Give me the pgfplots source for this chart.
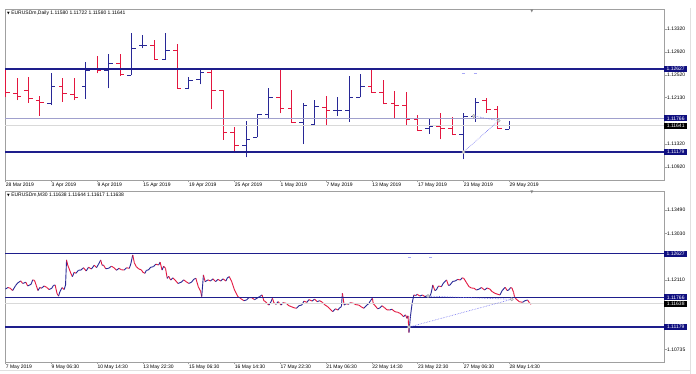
\documentclass[border=0pt]{standalone}
\usepackage{fontspec}
\setmainfont{Liberation Sans}
\newfontfamily\dejavu{DejaVu Sans}
\usepackage{pgfplots}
\pgfplotsset{compat=1.18}
\usepackage{pgfplotstable}
\definecolor{barblue}{RGB}{40,40,150}
\definecolor{barred}{RGB}{227,23,63}
\definecolor{lvlnavy}{RGB}{30,30,140}
\definecolor{lvllight}{RGB}{160,160,205}
\definecolor{boxnavy}{RGB}{16,16,128}
\definecolor{framegray}{RGB}{160,160,160}
\definecolor{dotblue}{RGB}{110,110,240}
\newcommand\tinyfont{\fontsize{5}{6}\selectfont}

\pgfplotstableread{
i O H L C
4 1.12027 1.12549 1.11998 1.12317
7 1.12317 1.12740 1.12103 1.12607
9 1.12607 1.12885 1.12288 1.12723
11 1.12520 1.13245 1.12520 1.12984
12 1.13030 1.13216 1.12984 1.13036
14 1.12798 1.13245 1.12792 1.12955
16 1.12288 1.12479 1.12271 1.12433
17 1.12445 1.12619 1.12358 1.12566
21 1.11297 1.11726 1.11088 1.11401
22 1.11436 1.11842 1.11436 1.11836
23 1.11836 1.12288 1.11749 1.12132
26 1.11697 1.12039 1.11320 1.11998
27 1.11668 1.12085 1.11650 1.11981
29 1.11900 1.12132 1.11813 1.11905
30 1.11911 1.12503 1.11708 1.12132
31 1.12132 1.12537 1.12132 1.12317
37 1.11592 1.11749 1.11494 1.11633
40 1.11488 1.11865 1.11053 1.11795
41 1.11795 1.12114 1.11708 1.12039
44 1.11580 1.11722 1.11580 1.11641
}\upbars

\pgfplotstableread{
i O H L C
0 1.12259 1.12607 1.12132 1.12213
1 1.12201 1.12462 1.12085 1.12155
2 1.12248 1.12479 1.12039 1.12114
3 1.12085 1.12155 1.11813 1.12039
5 1.12317 1.12474 1.12056 1.12201
6 1.12190 1.12462 1.12085 1.12132
8 1.12619 1.12850 1.12549 1.12595
10 1.12723 1.12885 1.12503 1.12532
13 1.13042 1.13129 1.12798 1.12798
15 1.12955 1.13053 1.12277 1.12288
18 1.12566 1.12607 1.11923 1.12259
19 1.12259 1.12259 1.11390 1.11517
20 1.11517 1.11621 1.11169 1.11297
24 1.12132 1.12648 1.11853 1.11940
25 1.11940 1.12259 1.11691 1.11697
28 1.11958 1.12155 1.11645 1.11900
32 1.12317 1.12624 1.12213 1.12213
33 1.12213 1.12433 1.12010 1.12027
34 1.12027 1.12242 1.11755 1.11998
35 1.11998 1.12230 1.11650 1.11749
36 1.11749 1.11824 1.11546 1.11552
38 1.11633 1.11865 1.11401 1.11592
39 1.11592 1.11784 1.11476 1.11488
42 1.12085 1.12114 1.11865 1.11923
43 1.11923 1.11981 1.11581 1.11592
}\downbars

\pgfplotstableread{
i p c
0 1.11930 1
3.5 1.11960 0
6.8 1.11944 0
10 1.11900 1
14.0 1.11996 1
17 1.12050 1
21.2 1.12088 0
24 1.12040 1
28.5 1.12062 0
31 1.11990 1
35.7 1.12022 1
38 1.12110 0
40.5 1.12101 0
43 1.12000 0
45.3 1.11900 1
48 1.11960 0
50.1 1.11944 1
54 1.11990 0
57.4 1.11963 0
61 1.11920 1
64.6 1.11944 1
67 1.12000 1
69.4 1.12009 0
72 1.11840 0
74.2 1.11790 1
76 1.11878 1
79.1 1.11957 0
82 1.11920 1
83.9 1.12009 1
85.3 1.12503 0
87 1.12400 0
88.7 1.12338 0
91 1.12250 0
93.5 1.12174 1
96 1.12260 0
98.3 1.12240 1
102 1.12300 1
105.5 1.12305 1
109 1.12350 0
112.8 1.12286 1
116 1.12360 0
120 1.12325 1
124 1.12400 0
127.2 1.12352 1
130 1.12420 1
133 1.12503 0
135 1.12400 1
136.9 1.12404 0
140 1.12330 1
144.1 1.12338 1
148 1.12380 0
151.3 1.12352 0
155 1.12300 1
158.6 1.12338 0
162 1.12310 0
165.8 1.12305 1
169 1.12350 0
173 1.12338 1
175 1.12420 1
177.8 1.12602 0
180 1.12450 0
182.7 1.12371 0
186 1.12330 0
189.9 1.12305 0
192 1.12260 0
194.7 1.12240 1
197 1.12300 1
199.5 1.12305 1
203 1.12360 1
206.8 1.12371 1
210 1.12420 0
214 1.12404 1
216 1.12460 0
218.8 1.12305 1
221 1.12380 0
223.6 1.12338 0
226 1.12141 1
228 1.12180 0
230.8 1.12108 1
234 1.12150 0
238.1 1.12088 0
241 1.12040 1
245.3 1.12062 1
249 1.12110 0
252.5 1.12075 0
256 1.12040 1
259.8 1.12062 1
263 1.12120 1
266 1.12141 0
269.4 1.11976 0
272.8 1.11878 0
274.2 1.11779 1
276.6 1.12207 0
279 1.12075 1
283 1.12110 0
286.3 1.12088 1
290 1.12130 0
293.5 1.12075 1
297 1.12120 0
300.7 1.12088 1
304 1.12130 0
308 1.12088 1
310 1.12150 1
312.8 1.12174 0
316.1 1.12075 0
320 1.11911 0
324.8 1.11779 0
327 1.11760 0
329.6 1.11733 0
333 1.11700 1
336.9 1.11713 1
340 1.11760 0
344.1 1.11759 0
348 1.11720 1
351.3 1.11746 1
355 1.11780 1
358.5 1.11812 0
361 1.11700 0
363.4 1.11680 0
366 1.11640 0
368.2 1.11614 1
371 1.11680 1
373 1.11746 0
375 1.11660 0
377.8 1.11628 1
381 1.11680 0
385 1.11614 1
388 1.11660 0
392.3 1.11647 0
396 1.11600 0
399.5 1.11582 0
403 1.11560 0
406.7 1.11549 1
410 1.11600 1
414 1.11614 1
417 1.11690 0
421.2 1.11667 1
424 1.11720 0
428.4 1.11693 1
432 1.11730 0
435.6 1.11680 1
439 1.11700 0
442.9 1.11667 0
446 1.11620 0
450.1 1.11582 0
453 1.11540 0
457.3 1.11483 1
461 1.11540 0
464.6 1.11516 1
467 1.11560 1
469.4 1.11582 1
470.8 1.11845 0
473.2 1.11614 1
476 1.11640 0
479 1.11628 1
482 1.11660 0
486.2 1.11647 0
490 1.11620 0
493.5 1.11614 0
497 1.11580 0
500.7 1.11549 1
504 1.11600 1
507.9 1.11647 1
510 1.11700 1
512.7 1.11746 0
514 1.11640 0
517.6 1.11582 0
520 1.11540 1
522.4 1.11549 1
526 1.11600 0
529.6 1.11562 0
533 1.11520 0
536.8 1.11516 1
540 1.11530 0
544.1 1.11483 0
548 1.11470 0
551.3 1.11450 0
554 1.11420 0
556.1 1.11384 1
559 1.11420 0
560.9 1.11351 1
562.5 1.11400 0
563.8 1.11070 1
565.8 1.11384 1
568.2 1.11647 1
570.6 1.11812 0
573 1.11800 1
575.4 1.11825 0
579 1.11790 1
582.6 1.11812 0
586 1.11780 1
589.8 1.11799 0
592 1.11760 1
594.7 1.11845 1
597.1 1.12009 0
600 1.11900 1
601.9 1.11911 1
605 1.11990 0
609.1 1.11976 1
612 1.12050 1
616.3 1.12108 0
619 1.12000 1
621.2 1.12009 1
625 1.12080 1
628.4 1.12088 1
632 1.12120 0
635.6 1.12108 1
638 1.12150 0
640.4 1.12141 0
644 1.12060 0
647.7 1.11976 0
651 1.11950 0
654.9 1.11944 0
658 1.11910 1
662.1 1.11930 1
665 1.11960 0
669.4 1.11911 1
673 1.11950 0
676.6 1.11930 0
680 1.11880 0
683.8 1.11845 0
687 1.11830 0
691 1.11812 1
694 1.11900 1
698.3 1.11963 0
701 1.11900 1
703.1 1.11911 1
706 1.11960 0
707.9 1.11944 0
710 1.11860 0
711.3 1.11779 0
713 1.11740 0
715.1 1.11713 0
718 1.11680 0
722.4 1.11667 1
726 1.11700 1
729.6 1.11713 0
732 1.11660 0
734.4 1.11628 0
}\mthirty

\tikzset{pricebox/.style={font=\tinyfont, text=white, inner sep=0pt, minimum height=6pt, minimum width=23pt, anchor=west}}

\pgfplotsset{
  mtaxis/.style={
    scale only axis, width=659pt, height=171pt, anchor=south west,
    clip mode=individual,
    axis line style={framegray, line width=0.8pt},
    tick style={framegray, line width=0.5pt},
    major tick length=2.5pt, tick align=outside,
    xtick pos=bottom, ytick pos=right, yticklabel pos=right,
    ticklabel style={font=\tinyfont, text=black},
    xticklabel style={anchor=north west, inner sep=0.5pt, xshift=-0.3pt},
    yticklabel style={anchor=west, inner sep=0.5pt},
    scaled y ticks=false,
    /pgf/number format/assume math mode=true,
  },
  ohlcv/.style={mark=none, draw=none, forget plot, error bars/.cd, y dir=plus, y explicit, error mark=none, error bar style={draw=#1, line width=0.9pt}},
  ohlco/.style={mark=none, draw=none, forget plot, error bars/.cd, x dir=minus, x fixed=0.36, error mark=none, error bar style={draw=#1, line width=0.9pt}},
  ohlcc/.style={mark=none, draw=none, forget plot, error bars/.cd, x dir=plus, x fixed=0.36, error mark=none, error bar style={draw=#1, line width=0.9pt}},
}

\begin{document}
\begin{tikzpicture}[x=1pt,y=1pt]
\path[use as bounding box, fill=white] (0,0) rectangle (696,374);

% ---------------- Daily panel ----------------
\begin{axis}[mtaxis, at={(5pt,194pt)},
  xmin=-0.044, xmax=57.51, ymin=1.10694, ymax=1.13668,
  xtick={0,4,8,12,16,20,24,28,32,36,40,44},
  xticklabels={28 Mar 2019,3 Apr 2019,9 Apr 2019,15 Apr 2019,19 Apr 2019,25 Apr 2019,1 May 2019,7 May 2019,13 May 2019,17 May 2019,23 May 2019,29 May 2019},
  ytick={1.1332,1.1292,1.1252,1.1213,1.1132,1.1092},
  yticklabels={1.13320,1.12920,1.12520,1.12130,1.11320,1.10920},
]
\addplot[ohlcv=barblue] table[x=i, y=L, y error plus expr={\thisrow{H}-\thisrow{L}}] {\upbars};
\addplot[ohlco=barblue] table[x=i, y=O] {\upbars};
\addplot[ohlcc=barblue] table[x=i, y=C] {\upbars};
\addplot[ohlcv=barred] table[x=i, y=L, y error plus expr={\thisrow{H}-\thisrow{L}}] {\downbars};
\addplot[ohlco=barred] table[x=i, y=O] {\downbars};
\addplot[ohlcc=barred] table[x=i, y=C] {\downbars};

\addplot[lvlnavy, line width=1.3pt] coordinates {(-2,1.12627) (60,1.12627)};
\addplot[lvllight, line width=1.3pt] coordinates {(-2,1.11766) (60,1.11766)};
\addplot[black!15, line width=0.8pt] coordinates {(-2,1.11641) (60,1.11641)};
\addplot[lvlnavy, line width=1.3pt] coordinates {(-2,1.11179) (60,1.11179)};

\addplot[dotblue, densely dotted, line width=0.6pt] coordinates {(40,1.11181) (43.07,1.11726)};
\addplot[dotblue, densely dotted, line width=0.6pt] coordinates {(40.9,1.11807) (43.07,1.11726)};
\addplot[only marks, mark=*, mark size=1.6pt, mark options={draw=gray!80, fill=gray!25, line width=0.4pt}] coordinates {(40,1.11181) (40.9,1.11807) (43.07,1.11726)};
\addplot[dotblue!60, line width=0.8pt] coordinates {(39.85,1.12549) (40.15,1.12549)};
\addplot[dotblue!60, line width=0.8pt] coordinates {(40.9,1.12549) (41.2,1.12549)};

\node[pricebox, fill=boxnavy] at (axis cs:57.51,1.12627) {1.12627};
\node[pricebox, fill=boxnavy] at (axis cs:57.51,1.11766) {1.11766};
\node[pricebox, fill=black] at (axis cs:57.51,1.11641) {1.11641};
\node[pricebox, fill=boxnavy] at (axis cs:57.51,1.11179) {1.11179};

\node[anchor=west, font=\tinyfont, inner sep=0pt, xshift=2pt, yshift=-4.5pt] at (rel axis cs:0,1) {{\dejavu\fontsize{3.5}{4}\selectfont ▼}\ EURUSDm,Daily 1.11580 1.11722 1.11580 1.11641};
\end{axis}

% ---------------- M30 panel ----------------
\begin{axis}[mtaxis, at={(5pt,12pt)},
  xmin=-0.7, xmax=920.2, ymin=1.10489, ymax=1.13865,
  xtick={0,64,128,192,256,320,384,448,512,576,640,704},
  xticklabels={7 May 2019,9 May 06:30,10 May 14:30,13 May 22:30,15 May 06:30,16 May 14:30,17 May 22:30,21 May 06:30,22 May 14:30,23 May 22:30,27 May 06:30,28 May 14:30},
  ytick={1.1349,1.1303,1.1211,1.10735},
  yticklabels={1.13490,1.13030,1.12110,1.10735},
]
\addplot[mesh, shader=flat corner, point meta=explicit, point meta min=0, point meta max=1,
  colormap={rb}{rgb255=(227,23,63) rgb255=(40,40,150)}, line width=0.9pt]
  table[x=i, y=p, meta=c] {\mthirty};

\addplot[lvlnavy, line width=1.3pt] coordinates {(-10,1.12627) (930,1.12627)};
\addplot[lvlnavy, line width=1.3pt] coordinates {(-10,1.11766) (930,1.11766)};
\addplot[black!15, line width=0.8pt] coordinates {(-10,1.11638) (930,1.11638)};
\addplot[lvlnavy, line width=1.3pt] coordinates {(-10,1.11179) (930,1.11179)};

\addplot[dotblue, densely dotted, line width=0.6pt] coordinates {(563.8,1.11179) (707.4,1.11727)};
\addplot[dotblue, densely dotted, line width=0.6pt] coordinates {(590.4,1.11790) (707.4,1.11727)};
\addplot[only marks, mark=*, mark size=1.6pt, mark options={draw=gray!80, fill=gray!25, line width=0.4pt}] coordinates {(563.8,1.11179) (590.4,1.11790) (707.4,1.11727)};
\addplot[dotblue!60, line width=0.8pt] coordinates {(563,1.12548) (567,1.12548)};
\addplot[dotblue!60, line width=0.8pt] coordinates {(592,1.12548) (596,1.12548)};

\node[pricebox, fill=boxnavy] at (axis cs:920.2,1.12627) {1.12627};
\node[pricebox, fill=boxnavy] at (axis cs:920.2,1.11766) {1.11766};
\node[pricebox, fill=black] at (axis cs:920.2,1.11638) {1.11638};
\node[pricebox, fill=boxnavy] at (axis cs:920.2,1.11179) {1.11179};

\node[anchor=west, font=\tinyfont, inner sep=0pt, xshift=2pt, yshift=-4.5pt] at (rel axis cs:0,1) {{\dejavu\fontsize{3.5}{4}\selectfont ▼}\ EURUSDm,M30 1.11638 1.11644 1.11617 1.11638};
\end{axis}

% window decorations
\draw[black!12, line width=0.6pt] (690,0) -- (690,366);
\draw[black!12, line width=0.6pt] (0,4) -- (690,4);
\node[font=\dejavu\fontsize{4}{5}\selectfont, text=gray, inner sep=0pt] at (532,363) {▼};
\node[font=\dejavu\fontsize{4}{5}\selectfont, text=gray, inner sep=0pt] at (532,182) {▼};
\end{tikzpicture}
\end{document}
